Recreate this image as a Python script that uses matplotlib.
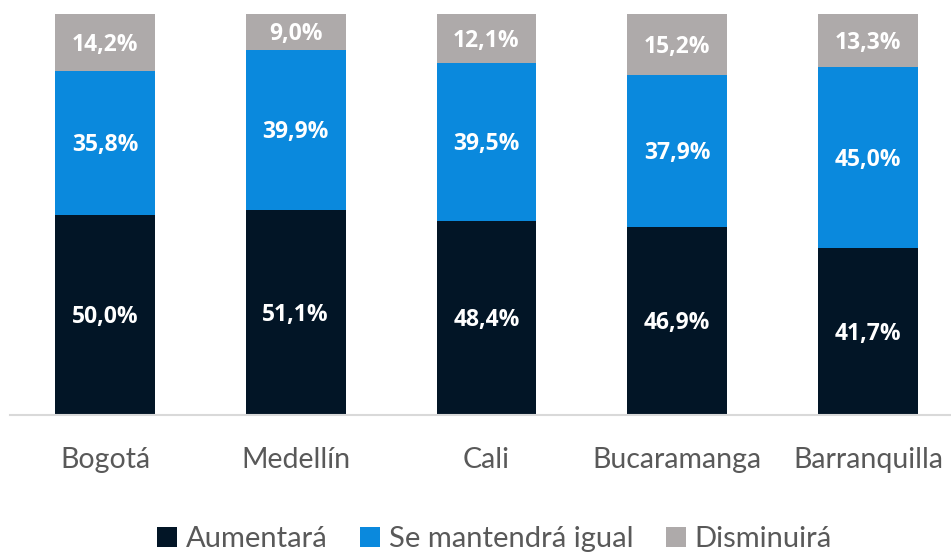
import matplotlib.pyplot as plt
from matplotlib.patches import Patch

# data
cities = ["Bogotá", "Medellín", "Cali", "Bucaramanga", "Barranquilla"]
aumentara = [50.0, 51.1, 48.4, 46.9, 41.7]
igual = [35.8, 39.9, 39.5, 37.9, 45.0]
disminuira = [14.2, 9.0, 12.1, 15.2, 13.3]
series_names = ["Aumentará", "Se mantendrá igual", "Disminuirá"]

colors = ["#021526", "#0a89dd", "#aeaaaa"]

plt.rcParams["font.family"] = ["Lato", "DejaVu Sans"]

fig = plt.figure(figsize=(9.51, 5.55), dpi=100)
ax = fig.add_axes([9.6 / 951, 140 / 555, (951 - 9.6) / 951, 401 / 555])

x = list(range(len(cities)))
width = 0.524
bottom = [0.0] * len(cities)
for vals, col in zip([aumentara, igual, disminuira], colors):
    bars = ax.bar(x, vals, width, bottom=bottom, color=col, linewidth=0)
    for b, v, y0 in zip(bars, vals, bottom):
        ax.text(b.get_x() + b.get_width() / 2, y0 + v / 2 - 0.6, f"{v:.1f}%".replace(".", ","),
                ha="center", va="center", color="white", fontsize=16.5,
                fontweight="bold", family=["Open Sans", "DejaVu Sans"])
    bottom = [b0 + v for b0, v in zip(bottom, vals)]

ax.set_xlim(-0.5, 4.435)
ax.set_ylim(0, 100)
ax.set_yticks([])
ax.set_xticks(x)
ax.set_xticklabels(cities, fontsize=20.5, color="#595959")
ax.tick_params(axis="x", length=0, pad=23)
for side in ["top", "right", "left"]:
    ax.spines[side].set_visible(False)
ax.spines["bottom"].set_color("#d9d9d9")
ax.spines["bottom"].set_linewidth(1.5)

handles = [Patch(facecolor=c, edgecolor="none") for c in colors]
fig.legend(handles, series_names, loc="center", bbox_to_anchor=(0.52, 16 / 555),
           ncol=3, frameon=False, fontsize=21, labelcolor="#595959",
           handlelength=0.7, handleheight=0.7, handletextpad=0.3, columnspacing=1.1)

fig.savefig("out.png", dpi=100, facecolor="white")
